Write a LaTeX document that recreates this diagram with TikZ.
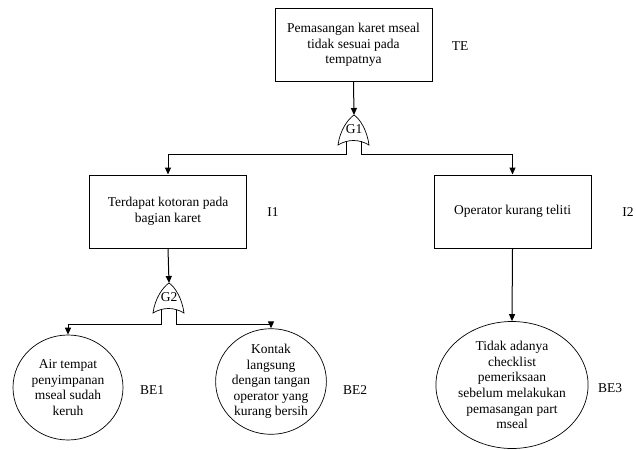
\documentclass[tikz,border=0pt]{standalone}
\usepackage{fontspec}
\setmainfont{Liberation Serif}
\usetikzlibrary{arrows.meta,shapes.geometric}

\tikzset{
  every node/.style={font=\fontsize{13.5}{15.6}\selectfont, inner sep=0pt},
  event/.style={draw, line width=1pt, minimum width=157pt, minimum height=73pt, align=center},
  basic/.style={draw, ellipse, line width=0.7pt, align=center},
  tag/.style={anchor=center},
  link/.style={line width=1pt, -{Triangle[length=7pt,width=6pt]}},
  wire/.style={line width=1pt},
  orgate/.pic={
    \draw[line width=0.7pt] (0,0) .. controls (-6,4) and (-14,15) .. (-16,30)
      .. controls (-6,24) and (5,24) .. (15,30)
      .. controls (13,15) and (6,4) .. (0,0) -- cycle;
    \coordinate (-apex) at (0,0);
    \coordinate (-l) at (-8,26.5);
    \coordinate (-r) at (7,26.5);
    \node (-txt) at (0,14) {\tikzpictext};
  }
}

\begin{document}
\begin{tikzpicture}[x=1pt,y=-1pt]
  \useasboundingbox[fill=white] (0,0) rectangle (636,449);

  % top event and intermediate events
  \node[event] (te) at (353.5,45) {Pemasangan karet mseal\\tidak sesuai pada\\tempatnya};
  \node[event] (i1) at (168,211.5) {Terdapat kotoran pada\\bagian karet};
  \node[event] (i2) at (512.5,211.5) {Operator kurang teliti};

  % basic events
  \node[basic, minimum width=110pt, minimum height=105pt] (be1) at (68,387.5)
    {Air tempat\\penyimpanan\\mseal sudah\\keruh};
  \node[basic, minimum width=93pt, minimum height=93pt] (be2) at (271,381.5)
    {Kontak\\langsung\\dengan tangan\\operator yang\\kurang bersih};
  \node[basic, minimum width=140pt, minimum height=127pt] (be3) at (512,385)
    {Tidak adanya\\checklist\\pemeriksaan\\sebelum melakukan\\pemasangan part\\mseal};

  % identifiers
  \node[tag] (lte) at (460,46) {TE};
  \node[tag] (li1) at (273,212) {I1};
  \node[tag] (li2) at (628,212) {I2};
  \node[tag] (lbe1) at (152,390) {BE1};
  \node[tag] (lbe2) at (355,390) {BE2};
  \node[tag] (lbe3) at (610,388) {BE3};

  % OR gates
  \pic[pic text=G1] (g1) at (354,115) {orgate};
  \pic[pic text=G2] (g2) at (169,283) {orgate};

  % junction points of the gate outputs
  \coordinate (j1l) at (g1-l |- 0,155);
  \coordinate (j1r) at (g1-r |- 0,155);
  \coordinate (j2l) at (g2-l |- 0,324.5);
  \coordinate (j2r) at (g2-r |- 0,324.5);

  % connectors
  \draw[link] (te.south) -- (g1-apex);
  \draw[wire] (g1-l) -- (j1l);
  \draw[wire] (g1-r) -- (j1r);
  \draw[link] (j1l) -| (i1.north);
  \draw[link] (j1r) -| (i2.north);

  \draw[link] (i1.south) -- (g2-apex);
  \draw[wire] (g2-l) -- (j2l);
  \draw[wire] (g2-r) -- (j2r);
  \draw[link] (j2l) -| (be1.north);
  \draw[link] (j2r) -| (be2.north);

  \draw[link] (i2.south) -- (be3.north);
\end{tikzpicture}
\end{document}
